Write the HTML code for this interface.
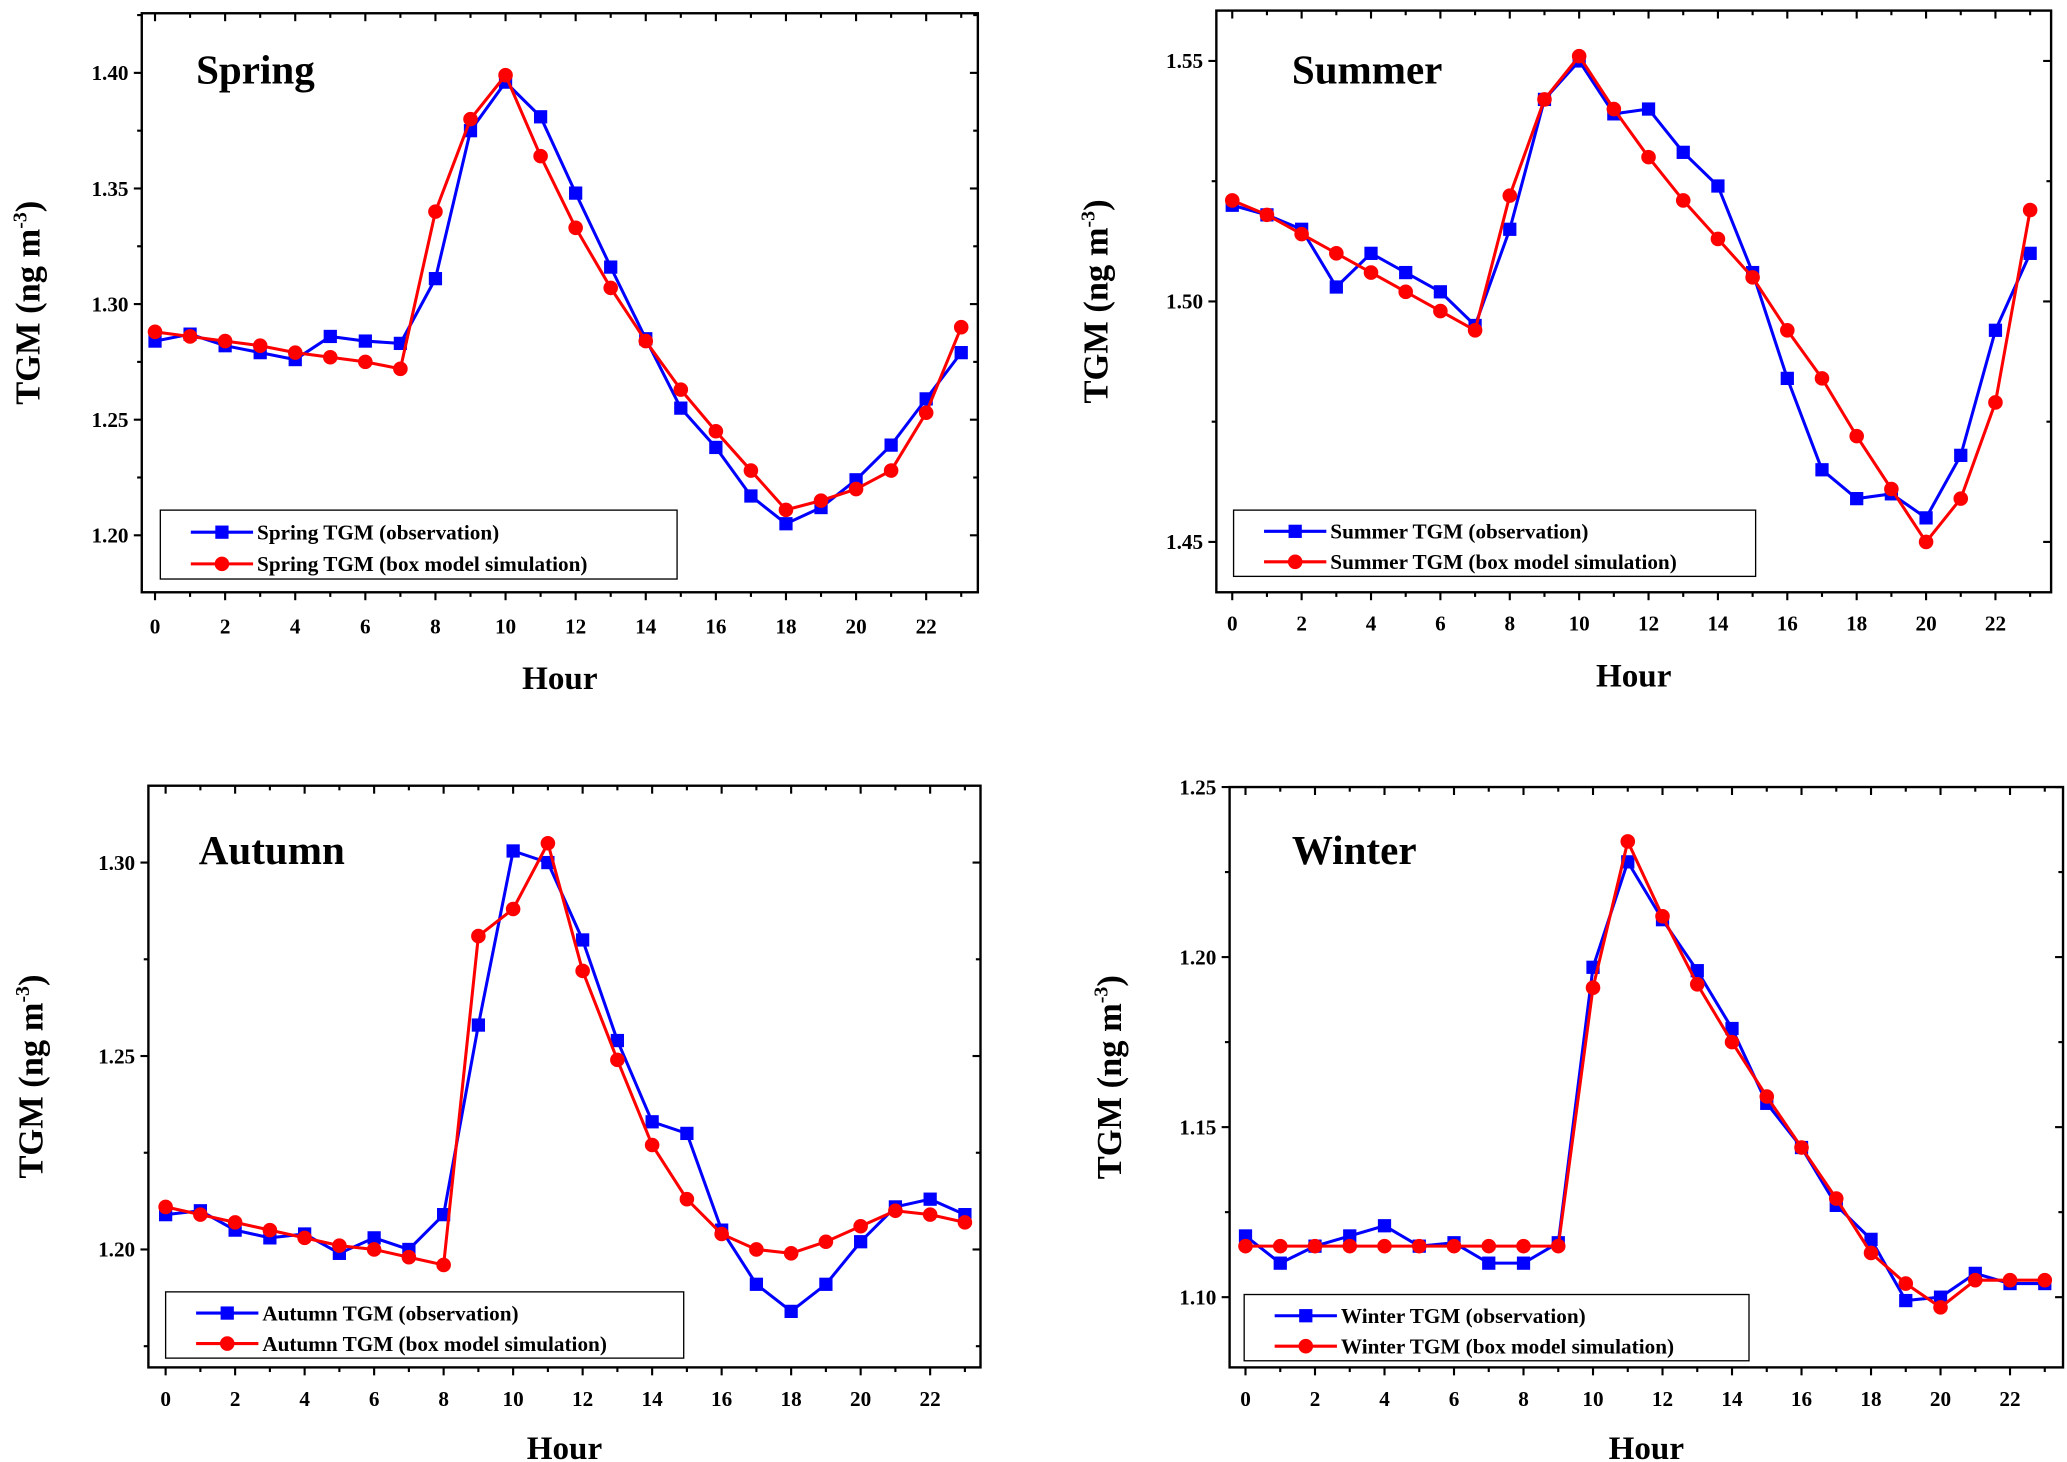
<!DOCTYPE html>
<html><head><meta charset="utf-8"><style>
html,body{margin:0;padding:0;background:#fff;}
svg{display:block;font-family:"Liberation Serif",serif;font-weight:bold;}
</style></head><body>
<svg id="fig" width="2067" height="1462" viewBox="0 0 1560 1103.4" preserveAspectRatio="none" xmlns="http://www.w3.org/2000/svg"></svg>
<script>
const hours = [0,1,2,3,4,5,6,7,8,9,10,11,12,13,14,15,16,17,18,19,20,21,22,23];
const springObs = [1.284,1.287,1.282,1.279,1.276,1.286,1.284,1.283,1.311,1.375,1.396,1.381,1.348,1.316,1.285,1.255,1.238,1.217,1.205,1.212,1.224,1.239,1.259,1.279];
const springSim = [1.288,1.286,1.284,1.282,1.279,1.277,1.275,1.272,1.340,1.380,1.399,1.364,1.333,1.307,1.284,1.263,1.245,1.228,1.211,1.215,1.220,1.228,1.253,1.290];
const summerObs = [1.520,1.518,1.515,1.503,1.510,1.506,1.502,1.495,1.515,1.542,1.550,1.539,1.540,1.531,1.524,1.506,1.484,1.465,1.459,1.460,1.455,1.468,1.494,1.510];
const summerSim = [1.521,1.518,1.514,1.510,1.506,1.502,1.498,1.494,1.522,1.542,1.551,1.540,1.530,1.521,1.513,1.505,1.494,1.484,1.472,1.461,1.450,1.459,1.479,1.519];
const autumnObs = [1.209,1.210,1.205,1.203,1.204,1.199,1.203,1.200,1.209,1.258,1.303,1.300,1.280,1.254,1.233,1.230,1.205,1.191,1.184,1.191,1.202,1.211,1.213,1.209];
const autumnSim = [1.211,1.209,1.207,1.205,1.203,1.201,1.200,1.198,1.196,1.281,1.288,1.305,1.272,1.249,1.227,1.213,1.204,1.200,1.199,1.202,1.206,1.210,1.209,1.207];
const winterObs = [1.118,1.110,1.115,1.118,1.121,1.115,1.116,1.110,1.110,1.116,1.197,1.228,1.211,1.196,1.179,1.157,1.144,1.127,1.117,1.099,1.100,1.107,1.104,1.104];
const winterSim = [1.115,1.115,1.115,1.115,1.115,1.115,1.115,1.115,1.115,1.115,1.191,1.234,1.212,1.192,1.175,1.159,1.144,1.129,1.113,1.104,1.097,1.105,1.105,1.105];
const springTicks = ["1.20","1.25","1.30","1.35","1.40"];
const summerTicks = ["1.45","1.50","1.55"];
const autumnTicks = ["1.20","1.25","1.30"];
const winterTicks = ["1.10","1.15","1.20","1.25"];
const xTicks = [0,2,4,6,8,10,12,14,16,18,20,22];

const NS="http://www.w3.org/2000/svg";
const svg=document.getElementById('fig');
function mk(tag,attrs,parent){const e=document.createElementNS(NS,tag);for(const k in attrs)e.setAttribute(k,attrs[k]);(parent||svg).appendChild(e);return e;}

const panels=[
 {name:'spring',title:'Spring',obs:springObs,sim:springSim,ticks:springTicks,minorStep:0.025,
  box:[107,10,738,447],y0:[1.40,55],y1:[1.20,404],x0:117,x22:699,leg:[121,385,511,437],titleX:148,titleY:63,axX:22,hourY:520,tickY:478},
 {name:'summer',title:'Summer',obs:summerObs,sim:summerSim,ticks:summerTicks,minorStep:0.025,
  box:[918,8,1548,447],y0:[1.55,46],y1:[1.45,409],x0:930,x22:1506,leg:[931,385,1325,435],titleX:975,titleY:63,axX:828,hourY:518,tickY:476},
 {name:'autumn',title:'Autumn',obs:autumnObs,sim:autumnSim,ticks:autumnTicks,minorStep:0.025,
  box:[112,593,740,1032],y0:[1.30,651],y1:[1.20,943],x0:125,x22:702,leg:[125,975,516,1025],titleX:150,titleY:652,axX:24,hourY:1101,tickY:1061},
 {name:'winter',title:'Winter',obs:winterObs,sim:winterSim,ticks:winterTicks,minorStep:0.025,
  box:[928,594,1557,1032],y0:[1.25,594],y1:[1.10,979],x0:940,x22:1517,leg:[939,977,1320,1027],titleX:975,titleY:652,axX:838,hourY:1101,tickY:1061}
];

panels.forEach(p=>{
 const g=mk('g',{});
 
 
 const [L,T,R,B]=p.box;
 const ys=v=>p.y0[1]+(v-p.y0[0])*(p.y1[1]-p.y0[1])/(p.y1[0]-p.y0[0]);
 const xs=h=>p.x0+h*(p.x22-p.x0)/22;
 const frame=mk('rect',{x:L,y:T,width:R-L,height:B-T,fill:'none',stroke:'#000','stroke-width':1.8},g);
 
 
 const vTop=p.y0[0]+(T-p.y0[1])*(p.y1[0]-p.y0[0])/(p.y1[1]-p.y0[1]);
 const vBot=p.y0[0]+(B-p.y0[1])*(p.y1[0]-p.y0[0])/(p.y1[1]-p.y0[1]);
 const lo=Math.min(vTop,vBot),hi=Math.max(vTop,vBot);
 for(let k=Math.ceil(lo/p.minorStep-1e-6);k*p.minorStep<=hi+1e-9;k++){
  const v=k*p.minorStep,y=ys(v);
  const major=Math.abs(Math.round(v/0.05)*0.05-v)<1e-6;
  const len=major?6:3.5;
  mk('line',{x1:L-len,y1:y,x2:L,y2:y,stroke:'#000','stroke-width':1.6},g);
  mk('line',{x1:R,y1:y,x2:R-len,y2:y,stroke:'#000','stroke-width':1.6},g);
 }
 p.ticks.forEach(t=>{
  const tx=mk('text',{x:L-10,y:ys(parseFloat(t))+5.5,'text-anchor':'end','font-size':16},g);
  tx.textContent=t;
  
  
 });
 hours.forEach(h=>{
  const x=xs(h),len=(h%2===0)?6:3.5;
  mk('line',{x1:x,y1:B,x2:x,y2:B+len,stroke:'#000','stroke-width':1.6},g);
  mk('line',{x1:x,y1:T,x2:x,y2:T+len,stroke:'#000','stroke-width':1.6},g);
 });
 xTicks.forEach(h=>{
  const tx=mk('text',{x:xs(h),y:p.tickY,'text-anchor':'middle','font-size':16},g);
  tx.textContent=h;
  
  
 });
 const hr=mk('text',{x:(L+R)/2,y:p.hourY,'text-anchor':'middle','font-size':25},g);
 hr.textContent='Hour';
 
 
 const cy=(T+B)/2;
 const yt=mk('text',{x:p.axX,y:cy,'text-anchor':'middle','font-size':26,transform:`rotate(-90 ${p.axX} ${cy})`,dy:8},g);
 yt.innerHTML='TGM (ng m<tspan font-size="15" dy="-10">-3</tspan><tspan dy="10">)</tspan>';
 
 
 const tt=mk('text',{x:p.titleX,y:p.titleY,'font-size':31},g);
 tt.textContent=p.title;
 
 
 const series=[{vals:p.obs,color:'#0000ff',shape:'sq',label:p.title+' TGM (observation)'},
               {vals:p.sim,color:'#ff0000',shape:'ci',label:p.title+' TGM (box model simulation)'}];
 series.forEach((s,si)=>{
  const pts=s.vals.map((v,i)=>xs(hours[i])+','+ys(v)).join(' ');
  const pl=mk('polyline',{points:pts,fill:'none',stroke:s.color,'stroke-width':2.3},g);
  
  
  s.vals.forEach((v,i)=>{
   let m;
   if(s.shape==='sq') m=mk('rect',{x:xs(hours[i])-5,y:ys(v)-5,width:10,height:10,fill:s.color},g);
   else m=mk('circle',{cx:xs(hours[i]),cy:ys(v),r:5.5,fill:s.color},g);
   
   
  });
 });
 const [lx1,ly1,lx2,ly2]=p.leg;
 const lg=mk('g',{},g);
 
 
 mk('rect',{x:lx1,y:ly1,width:lx2-lx1,height:ly2-ly1,fill:'#fff',stroke:'#000','stroke-width':1},lg);
 series.forEach((s,si)=>{
  const yy=ly1+(ly2-ly1)*(si?0.78:0.32);
  const e=mk('g',{},lg);
  
  
  mk('line',{x1:lx1+23,y1:yy,x2:lx1+70,y2:yy,stroke:s.color,'stroke-width':2.3},e);
  if(s.shape==='sq') mk('rect',{x:lx1+41.5,y:yy-5,width:10,height:10,fill:s.color},e);
  else mk('circle',{cx:lx1+46.5,cy:yy,r:5.5,fill:s.color},e);
  const t=mk('text',{x:lx1+73,y:yy+5.5,'font-size':16},e);
  t.textContent=s.label;
 });
});
</script>
</body></html>
